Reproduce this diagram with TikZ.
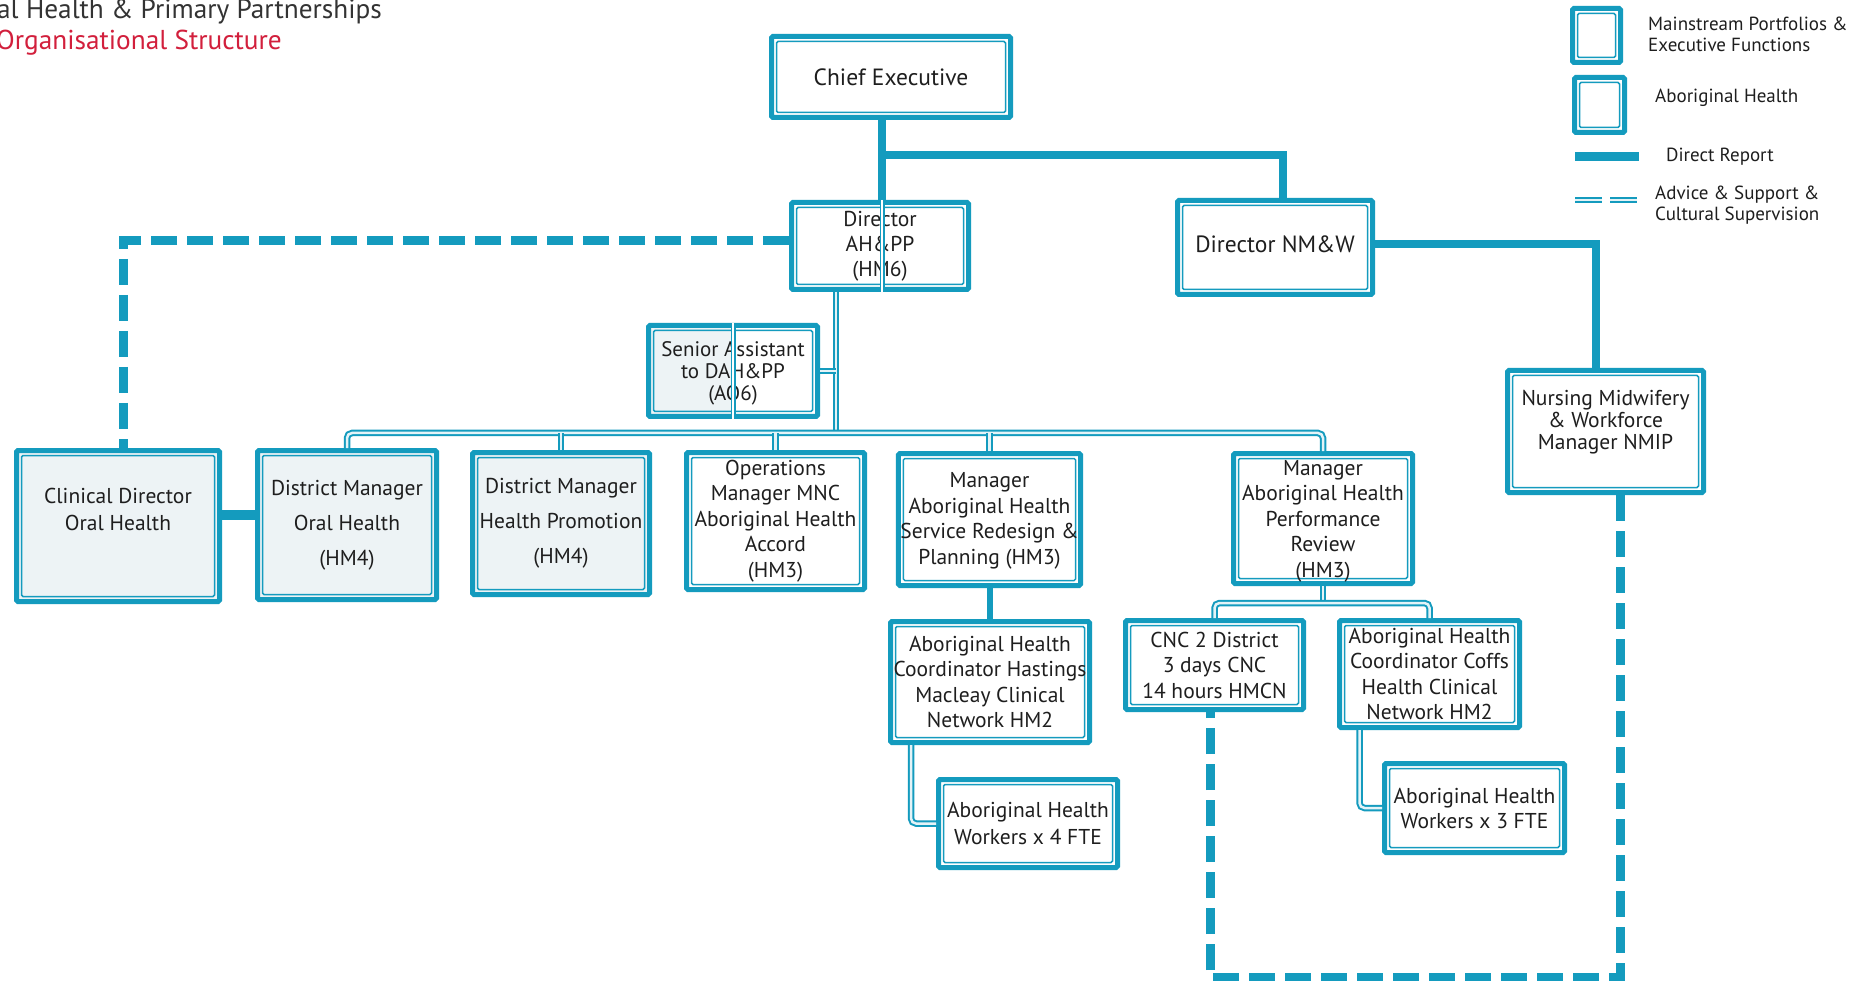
\documentclass[tikz,border=0pt]{standalone}
\usepackage{fontspec}
\setmainfont{PT Sans}
\usetikzlibrary{calc}
\definecolor{tealc}{HTML}{149BBE}
\definecolor{lightfill}{HTML}{EDF3F5}
\definecolor{pipein}{HTML}{E4F3F7}
\definecolor{textc}{HTML}{1E1E1E}
\definecolor{titlered}{HTML}{D21F3C}
\definecolor{titlegray}{HTML}{333333}
\newcommand{\fsz}[2]{\fontsize{#1}{#2}\selectfont}
\begin{document}
\begin{tikzpicture}[x=1pt,y=-1pt,
 innerline/.style={path picture={\draw[tealc, line width=1.5pt] ([shift={(5pt,5pt)}]path picture bounding box.south west) rectangle ([shift={(-5pt,-5pt)}]path picture bounding box.north east);}},
 box/.style={draw=tealc, line width=5pt, rounded corners=1.5pt, fill=white, inner sep=2pt, align=center, text=textc, innerline, font=\fsz{21.5}{26}},
 mainbox/.style={box, fill=lightfill},
 halfbox/.style={draw=tealc, line width=5pt, rounded corners=1.5pt, fill=white, inner sep=2pt, align=center, text=textc, font=\fsz{21.5}{26},
   path picture={\fill[lightfill] (path picture bounding box.south west) rectangle (path picture bounding box.north);
   \draw[tealc, line width=1.5pt] ([shift={(5pt,5pt)}]path picture bounding box.south west) rectangle ([shift={(-5pt,-5pt)}]path picture bounding box.north east);}},
 direct/.style={draw=tealc, line width=8pt},
 pipe/.style={draw=tealc, line width=2pt, double=pipein, double distance=2.5pt, rounded corners=5pt},
 thinpipe/.style={draw=tealc, line width=1.5pt, double=white, double distance=2pt},
 adv/.style={draw=tealc, line width=9pt, dash pattern=on 26pt off 10pt},
 legtext/.style={inner sep=0pt, text=textc, align=left, font=\fsz{19}{21.5}},
 title/.style={anchor=base west, inner sep=0pt, font=\fsz{27.3}{30}},
]
\useasboundingbox (0,0) rectangle (1861,981);
\fill[white] (0,0) rectangle (1861,981);

% title
\node[title, text=titlegray] (t1) at (-3,18.5) {al Health \& Primary Partnerships};
\node[title, text=titlered] (t2) at (-4,50) {Organisational Structure};

% legend
\node[box, minimum width=48pt, minimum height=54pt] (leg1) at (1596.5,35.5) {};
\node[box, minimum width=50pt, minimum height=55pt] (leg2) at (1599.5,105) {};
\node[legtext, anchor=west] (l1) at (1648,34.5) {Mainstream Portfolios \&\\Executive Functions};
\node[legtext, anchor=base west] (l2) at (1655,103) {Aboriginal Health};
\node[legtext, anchor=base west] (l3) at (1666,162) {Direct Report};
\node[legtext, anchor=west] (l4) at (1655,205) {Advice \& Support \&\\Cultural Supervision};
\coordinate (ldA) at (1575,157);
\coordinate (ldB) at (1639,157);
\draw[direct, line width=9pt] (ldA) -- (ldB);
\coordinate (laA) at (1575,200);
\coordinate (laB) at (1638,200);
\draw[pipe, rounded corners=0pt, dash pattern=on 27pt off 8pt] (laA) -- (laB);

% boxes
\node[box, minimum width=239pt, minimum height=81pt, font=\fsz{23.5}{27}] (ce) at (891,77) {Chief Executive};
\node[box, minimum width=177pt, minimum height=87pt, font=\fsz{21.5}{25}] (dirah) at (880,246) {Director\\AH\&PP\\(HM6)};
\node[box, minimum width=195pt, minimum height=94pt, font=\fsz{23.5}{27}, text depth=6pt] (dirnm) at (1275,247.5) {Director NM\&W};
\node[halfbox, minimum width=169pt, minimum height=91pt, font=\fsz{21}{22}, text depth=-1pt] (sa) at (733,371) {Senior Assistant\\to DAH\&PP\\(AO6)};
\node[box, minimum width=196pt, minimum height=122pt, font=\fsz{21.5}{22}, text depth=23pt] (nursing) at (1605.5,431.5) {Nursing Midwifery\\\& Workforce\\Manager NMIP};

\node[mainbox, minimum width=203pt, minimum height=151pt, font=\fsz{21.5}{27}, text depth=33pt] (clindir) at (118,526) {Clinical Director\\Oral Health};
\node[mainbox, minimum width=179pt, minimum height=149pt, font=\fsz{21.5}{35}] (dmoh) at (347,525) {District Manager\\Oral Health\\(HM4)};
\node[mainbox, minimum width=177pt, minimum height=142pt, font=\fsz{21.5}{35}] (dmhp) at (561,523.5) {District Manager\\Health Promotion\\(HM4)};
\node[box, minimum width=178pt, minimum height=137pt, font=\fsz{21.5}{25.5}] (ops) at (775.5,521) {Operations\\Manager MNC\\Aboriginal Health\\Accord\\(HM3)};
\node[box, minimum width=178pt, minimum height=132pt, font=\fsz{21.5}{25.5}, text depth=2pt] (sr) at (989.5,519.5) {Manager\\Aboriginal Health\\Service Redesign \&\\Planning (HM3)};
\node[box, minimum width=179pt, minimum height=130pt, font=\fsz{21.5}{25.5}, text depth=-2pt] (pr) at (1323,518.5) {Manager\\Aboriginal Health\\Performance\\Review\\(HM3)};

\node[box, minimum width=199pt, minimum height=121pt, font=\fsz{21.5}{25.5}] (hastings) at (990,682) {Aboriginal Health\\Coordinator Hastings\\Macleay Clinical\\Network HM2};
\node[box, minimum width=179pt, minimum height=88pt, font=\fsz{21.5}{27}] (w4) at (1028,823.5) {Aboriginal Health\\Workers x 4 FTE};
\node[box, minimum width=178pt, minimum height=89pt, font=\fsz{21.5}{25.5}] (cnc) at (1214.5,665) {CNC 2 District\\3 days CNC\\14 hours HMCN};
\node[box, minimum width=180pt, minimum height=107pt, font=\fsz{21.5}{25.5}] (coffs) at (1429.5,674) {Aboriginal Health\\Coordinator Coffs\\Health Clinical\\Network HM2};
\node[box, minimum width=180pt, minimum height=89pt, font=\fsz{21.5}{25}] (w3) at (1474.5,808) {Aboriginal Health\\Workers x 3 FTE};

% connectors
\coordinate (cx) at (882,0);
\coordinate (brY) at (0,155);
\coordinate (dx) at (836,0);
\coordinate (busY) at (0,433);
\coordinate (bus2Y) at (0,603);

\draw[direct] (ce.south -| cx) -- (dirah.north -| cx);
\draw[direct] (cx |- brY) -| ($(dirnm.north)+(8,0)$);
\draw[thinpipe] (dirah.north -| cx) -- (dirah.south -| cx);
\draw[direct] ($(dirnm.east)+(0,-3)$) -| ($(nursing.north)+(-9.5,0)$);

\draw[pipe] (dirah.south -| dx) -- (dx |- busY);
\draw[pipe] (sa.east) -- (sa.east -| dx);
\draw[thinpipe] (sa.north) -- (sa.south);
\draw[pipe] (dmoh.north) |- (pr.north |- busY) -- (pr.north);
\draw[pipe] (dmhp.north) -- (dmhp.north |- busY);
\draw[pipe] (ops.north) -- (ops.north |- busY);
\draw[pipe] (sr.north) -- (sr.north |- busY);

\draw[direct, line width=10pt] ($(clindir.east)+(0,-11)$) -- ($(dmoh.west)+(0,-10)$);

\draw[direct, line width=6pt] (sr.south) -- (sr.south |- hastings.north);
\draw[pipe] ($(hastings.south)+(-79,0)$) |- (w4.west);
\draw[pipe] (pr.south) -- (pr.south |- bus2Y);
\draw[pipe] (cnc.north) |- (coffs.north |- bus2Y) -- (coffs.north);
\draw[pipe] ($(coffs.south)+(-70,0)$) |- (w3.west);

\draw[adv] ($(dirah.west)+(0,-5)$) -| ($(clindir.north)+(5,0)$);
\draw[adv] ($(nursing.south)+(14.5,0)$) -- ($(nursing.south)+(14.5,482.5)$) -| ($(cnc.south)+(-4.5,0)$);
\end{tikzpicture}
\end{document}
